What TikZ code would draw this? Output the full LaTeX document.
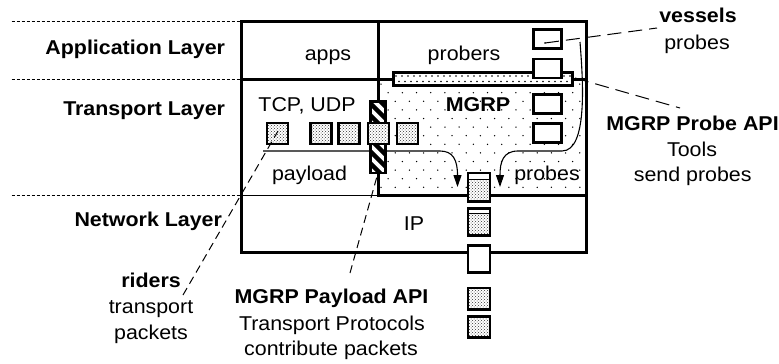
\documentclass[tikz,border=0pt]{standalone}
\usepackage{fontspec}
\setmainfont{Liberation Sans}[FakeStretch=1.07]
\usetikzlibrary{arrows.meta,patterns,calc}
\begin{document}
\begin{tikzpicture}[x=1pt,y=-1pt,
  every node/.style={inner sep=0pt,outer sep=0pt},
  lbl/.style={anchor=base,font=\fontsize{20}{24}\selectfont},
  blbl/.style={anchor=base,font=\fontsize{20}{24}\selectfont\bfseries},
  guide/.style={line width=0.8pt,dash pattern=on 3pt off 2pt},
  frame/.style={line width=3pt},
  thinline/.style={line width=1pt},
  leader/.style={line width=1pt,dash pattern=on 8pt off 5pt},
  longleader/.style={line width=1pt,dash pattern=on 14pt off 7pt},
  flow/.style={line width=1.1pt,-{Triangle[length=12pt,width=8pt]}},
  dotfill/.style={preaction={fill=white},pattern=crosshatch dots,pattern color=black!80},
  pkt/.style={draw,line width=2.6pt,minimum width=21pt,minimum height=21pt,dotfill},
  colpkt/.style={draw,line width=2.6pt,minimum width=22pt},
  vessel/.style={draw,fill=white,line width=2.6pt,minimum width=28pt,minimum height=19pt},
  hdr/.style={path picture={
     \fill[white] (path picture bounding box.north west) rectangle ([yshift=-#1]path picture bounding box.north east);
     \draw[line width=1pt] ([yshift=-#1]path picture bounding box.north west) -- ([yshift=-#1]path picture bounding box.north east);}}
]
\useasboundingbox (0,0) rectangle (779,364);

% layer guides
\draw[guide] (11.7,21.7) -- (241,21.7);
\draw[guide] (11.7,79.3) -- (241,79.3);
\draw[guide] (11.7,195) -- (241,195);

% MGRP region sparse dots
\begin{scope}
  \clip (379.5,80.5) rectangle (584.5,193.5);
  \foreach \j in {0,...,13}{
    \pgfmathsetmacro\off{mod(\j,2)*7.1}
    \foreach \i in {0,...,15}{
      \fill ({381+14.2*\i+\off},{84.1+8.6*\j}) circle[radius=0.75];
    }
  }
\end{scope}

% outer frame and dividers
\draw[frame] (241.5,21.5) rectangle (586,252);
\draw[frame] (241.5,79.3) -- (586,79.3);
\draw[frame] (378,21.5) -- (378,195) -- (586,195);
\draw[thinline] (241.5,195) -- (378,195);

% MGRP probe API bar
\fill[white] (393,72.5) rectangle (572,85.8);
\begin{scope}
  \clip (393,72.5) rectangle (572,85.8);
  \foreach \i in {0,...,30}{
    \fill ({396+6*\i},76) circle[radius=0.8];
    \fill ({399+6*\i},81.5) circle[radius=0.8];
  }
\end{scope}
\draw[frame] (393,72.5) rectangle (572,85.8);

% payload flow line
\coordinate (pstart) at (263,151);
\coordinate (ptip) at (457.5,187);
\draw[flow] (pstart) -- (440,151) .. controls (453,151) and (457.5,160) .. (ptip);

% MGRP payload API hatched bar
\fill[white] (370.5,101.2) rectangle (385.5,172.8);
\begin{scope}
  \clip (370.5,101.2) rectangle (385.5,172.8);
  \foreach \k in {-3,...,8}{
    \draw[line width=4.5pt] (362,{95+12*\k}) -- (394,{127+12*\k});
  }
\end{scope}
\node[draw,line width=2.6pt,minimum width=15pt,minimum height=71.6pt] (papibar) at (378,137) {};

% rider packets
\node[pkt] (r1) at (277.5,133.3) {};
\node[pkt] (r2) at (320.8,133.3) {};
\node[pkt] (r3) at (349,133.3) {};
\node[pkt] (r4) at (378.3,133.3) {};
\node[pkt] (r5) at (407.3,133.3) {};

% packet column
\node[colpkt,minimum height=28.5pt,dotfill,hdr=7pt] (c1) at (479,187.2) {};
\node[colpkt,minimum height=27pt,dotfill,hdr=5pt] (c2) at (479,222) {};
\node[colpkt,minimum height=27.5pt,fill=white] (c3) at (479,259) {};
\node[colpkt,minimum height=21.5pt,dotfill] (c4) at (479,298.7) {};
\node[colpkt,minimum height=21.5pt,dotfill] (c5) at (479,327) {};

% vessels
\node[vessel] (v1) at (547.5,39.2) {};
\node[vessel] (v2) at (547.5,68.3) {};
\node[vessel] (v3) at (547.5,104.2) {};
\node[vessel] (v4) at (547.5,132.9) {};

% probe flow
\coordinate (qstart) at (580,42);
\coordinate (qtip) at (500,187);
\draw[flow] (qstart) .. controls (583,80) and (588,151) .. (562,151) -- (518,151) .. controls (503,151) and (500,162) .. (qtip);

% texts
\node[blbl,anchor=base east] (appl) at (225,54) {Application Layer};
\node[blbl,anchor=base east] (trl) at (225,115) {Transport Layer};
\node[blbl,anchor=base east] (netl) at (222,226) {Network Layer};
\node[lbl] (apps) at (328,60) {apps};
\node[lbl] (probers) at (464,60) {probers};
\node[lbl] (tcp) at (307,111.7) {TCP, UDP};
\node[blbl] (mgrp) at (478,111.7) {MGRP};
\node[lbl] (payload) at (309.5,180) {payload};
\node[lbl] (probesin) at (547,180) {probes};
\node[lbl] (ip) at (414,230.7) {IP};
\node[blbl] (riders) at (151,287) {riders};
\node[lbl] (riders2) at (151,313) {transport};
\node[lbl] (riders3) at (151,339) {packets};
\node[blbl] (papi) at (331.5,303.3) {MGRP Payload API};
\node[lbl] (papi2) at (332,330) {Transport Protocols};
\node[lbl] (papi3) at (331,355) {contribute packets};
\node[blbl] (vessels) at (698,22.7) {vessels};
\node[lbl] (vessels2) at (697,49) {probes};
\node[blbl] (prapi) at (692.5,130.7) {MGRP Probe API};
\node[lbl] (prapi2) at (692,156.7) {Tools};
\node[lbl] (prapi3) at (692.7,181) {send probes};

% leaders
\coordinate (ridersend) at (183,295);
\coordinate (r1pt) at (278,131);
\draw[leader] (ridersend) -- (r1pt);
\coordinate (papiend) at (350,273);
\draw[leader] (papiend) -- (papibar.south);
\coordinate (v1pt) at (545,43);
\coordinate (vesselsend) at (657,28);
\fill (v1pt) circle[radius=0.8];
\draw[longleader] (v1pt) -- (vesselsend);
\coordinate (barend) at (575,78);
\coordinate (prapiend) at (680,108);
\draw[longleader] (barend) -- (prapiend);
\end{tikzpicture}
\end{document}
